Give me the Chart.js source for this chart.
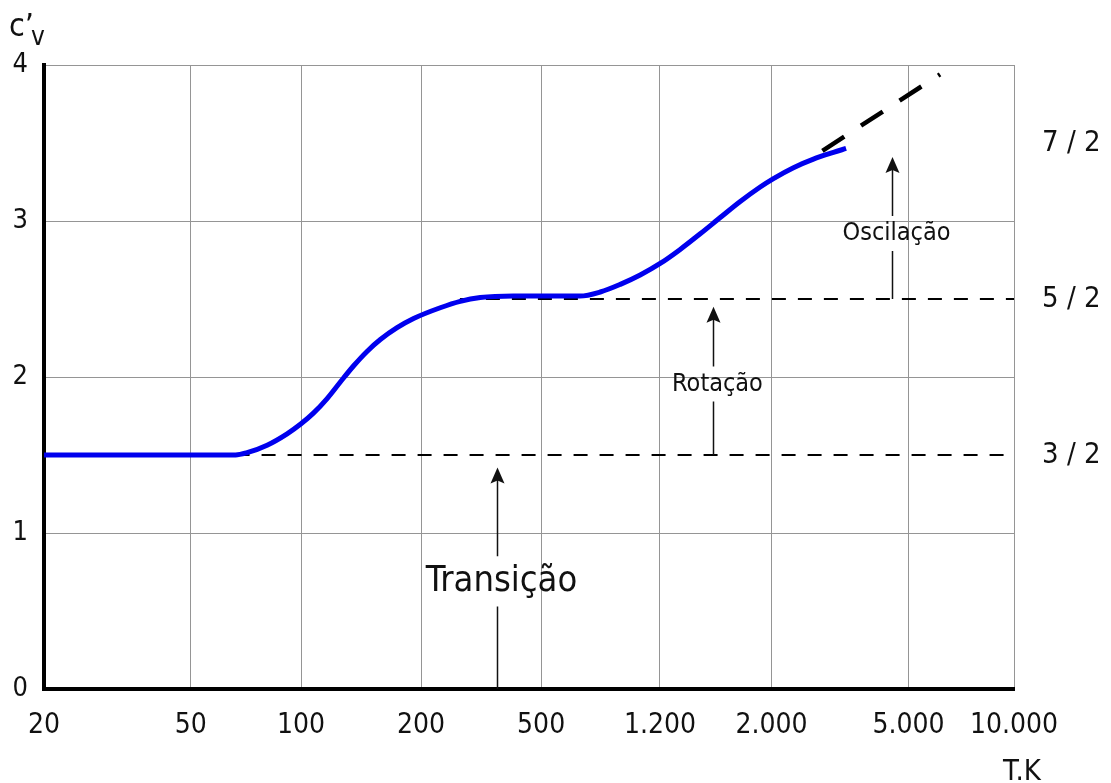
<!DOCTYPE html>
<html lang="pt">
<head>
<meta charset="utf-8">
<title>c'v em função de T</title>
<script src="https://cdn.jsdelivr.net/npm/chart.js@4.4.1/dist/chart.umd.min.js"></script>
<style>
  html, body { margin: 0; padding: 0; background: #fff; }
  #wrap { width: 1111px; height: 783px; }
</style>
</head>
<body>
<div id="wrap"><canvas id="cvChart"></canvas></div>
<script>
// Eixo T : escala não proporcional, posição de cada marca no eixo
const tickLabels = ['20', '50', '100', '200', '500', '1.200', '2.000', '5.000', '10.000'];
const tickPos = [0, 1.21, 2.12, 3.11, 4.10, 5.08, 6.00, 7.13, 8.00];

// Patamares teóricos (eixo da direita)
const levelValues = [1.5, 2.5, 3.5];
const levelLabels = ['3 / 2', '5 / 2', '7 / 2'];

// Curva c'v (azul)
const curveX = [0, 1.58, 1.675, 1.84, 2.005, 2.12, 2.224, 2.335, 2.444, 2.554, 2.664, 2.774, 2.912, 3.048, 3.268,
    3.433, 3.598, 3.87, 4.42, 4.588, 4.753, 4.917, 5.082, 5.247, 5.412, 5.577, 5.742, 5.907, 6.016, 6.181, 6.346, 6.511, 6.615];
const curveY = [1.5, 1.5, 1.515, 1.563, 1.636, 1.700, 1.770, 1.862, 1.968, 2.072, 2.164, 2.240, 2.316, 2.375, 2.444,
    2.485, 2.509, 2.519, 2.519, 2.545, 2.594, 2.654, 2.728, 2.818, 2.918, 3.022, 3.125, 3.218, 3.272, 3.342, 3.397, 3.440, 3.465];

// Prolongamento tracejado (oscilação)
const extX = [6.42, 7.39];
const extY = [3.45, 3.94];

// Linhas tracejadas 3/2 e 5/2
const refY = [1.5, 2.5];
const refStart = [1.58, 3.43];
const refEnd = [8, 8];

// Setas e legendas
const arrowLabels = ['Transição', 'Rotação', 'Oscilação'];
const arrowX = [3.74, 5.52, 6.99];
const arrowFrom = [0, 1.5, 2.5];
const arrowTo = [1.42, 2.45, 3.41];
const arrowTextY = [0.69, 1.955, 2.92];

const FONT = "'DejaVu Sans Condensed', 'DejaVu Sans', sans-serif";
const INK = '#111';
const GRID = '#959595';
const arrowFontSize = [36, 25, 25];

// Setas, textos e rótulos dos eixos
const annotationsPlugin = {
    id: 'annotations',
    afterDatasetsDraw(chart) {
        const { ctx, scales: { x, y } } = chart;
        ctx.save();
        ctx.strokeStyle = INK;
        ctx.fillStyle = INK;
        ctx.lineWidth = 1.5;
        ctx.textAlign = 'center';
        ctx.textBaseline = 'middle';

        arrowLabels.forEach((label, i) => {
            const px = Math.round(x.getPixelForValue(arrowX[i])) + 0.5;
            const yFrom = y.getPixelForValue(arrowFrom[i]);
            const yTip = y.getPixelForValue(arrowTo[i]);
            const yText = y.getPixelForValue(arrowTextY[i]);
            const size = arrowFontSize[i];
            const gap = size * 0.7;

            ctx.beginPath();
            ctx.moveTo(px, yFrom);
            ctx.lineTo(px, yText + gap);
            ctx.moveTo(px, yText - gap);
            ctx.lineTo(px, yTip + 12);
            ctx.stroke();

            ctx.beginPath();
            ctx.moveTo(px, yTip);
            ctx.lineTo(px - 7, yTip + 16);
            ctx.lineTo(px, yTip + 13);
            ctx.lineTo(px + 7, yTip + 16);
            ctx.closePath();
            ctx.fill();

            ctx.font = size + 'px ' + FONT;
            ctx.fillText(label, px + 4, yText);
        });

        // c'v em cima do eixo vertical
        ctx.textAlign = 'left';
        ctx.textBaseline = 'alphabetic';
        ctx.font = '32px ' + FONT;
        ctx.fillText('c’', 9, 36);
        ctx.font = '26px ' + FONT;
        ctx.fillText('v', 31, 45);

        // T.K por baixo do último valor
        ctx.textAlign = 'center';
        ctx.font = '29px ' + FONT;
        ctx.fillText('T.K', x.getPixelForValue(tickPos[tickPos.length - 1]) + 8, 780);

        ctx.restore();
    }
};

const datasets = [
    {
        data: curveX.map((v, i) => ({ x: v, y: curveY[i] })),
        borderColor: '#0000ee',
        borderWidth: 5,
        cubicInterpolationMode: 'monotone'
    },
    {
        data: extX.map((v, i) => ({ x: v, y: extY[i] })),
        borderColor: '#000',
        borderWidth: 4.5,
        borderDash: [26, 20]
    },
    ...refY.map((v, i) => ({
        data: [{ x: refStart[i], y: v }, { x: refEnd[i], y: v }],
        borderColor: '#000',
        borderWidth: 2,
        borderDash: [14, 12]
    }))
];

new Chart(document.getElementById('cvChart'), {
    type: 'line',
    data: { datasets },
    options: {
        responsive: true,
        maintainAspectRatio: false,
        animation: false,
        events: [],
        layout: { padding: { top: 65, left: 0, right: 0, bottom: 0 } },
        elements: { point: { radius: 0 }, line: { fill: false } },
        plugins: { legend: { display: false }, tooltip: { enabled: false } },
        scales: {
            x: {
                type: 'linear',
                min: 0,
                max: 8,
                afterBuildTicks: (s) => { s.ticks = tickPos.map(v => ({ value: v })); },
                afterFit: (s) => { s.height = 94; },
                grid: { color: GRID, lineWidth: 1, drawTicks: false },
                border: { display: true, color: '#000', width: 4 },
                ticks: {
                    autoSkip: false,
                    maxRotation: 0,
                    padding: 20,
                    color: INK,
                    font: { family: FONT, size: 28 },
                    callback: (v, i) => tickLabels[i]
                }
            },
            y: {
                min: 0,
                max: 4,
                afterFit: (s) => { s.width = 44; },
                grid: { color: GRID, lineWidth: 1, drawTicks: false },
                border: { display: true, color: '#000', width: 4 },
                ticks: {
                    stepSize: 1,
                    padding: 16,
                    color: INK,
                    font: { family: FONT, size: 27 }
                }
            },
            y2: {
                position: 'right',
                min: 0,
                max: 4,
                afterBuildTicks: (s) => { s.ticks = levelValues.map(v => ({ value: v })); },
                afterFit: (s) => { s.width = 97; },
                grid: { display: false, drawTicks: false },
                border: { display: false },
                ticks: {
                    padding: 28,
                    color: INK,
                    font: { family: FONT, size: 29 },
                    callback: (v, i) => levelLabels[i]
                }
            }
        }
    },
    plugins: [annotationsPlugin]
});
</script>
</body>
</html>
